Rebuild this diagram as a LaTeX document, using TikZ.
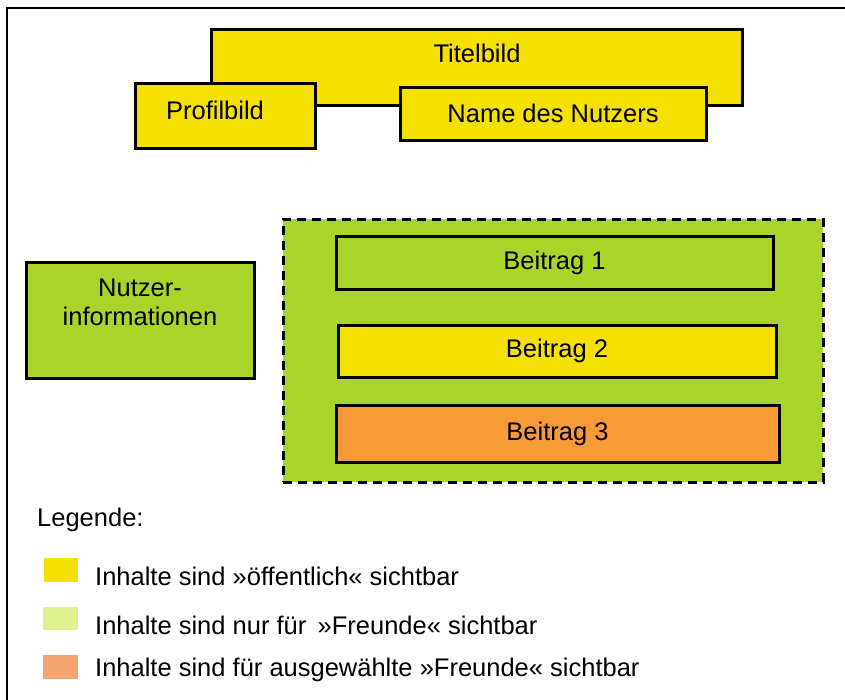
\documentclass[tikz,border=0pt]{standalone}
\usepackage{fontspec}
\setmainfont{Liberation Sans}
\definecolor{pubyellow}{HTML}{F5E100}
\definecolor{friendgreen}{HTML}{A9D42A}
\definecolor{selorange}{HTML}{F99A38}
\definecolor{lightgreen}{HTML}{DFF08F}
\definecolor{salmon}{HTML}{F4A46F}
\begin{document}
\begin{tikzpicture}[x=1pt,y=-1pt,
  box/.style={draw=black,line width=3pt,anchor=north west,inner sep=0pt,outer sep=0pt},
  lbl/.style={font=\fontsize{25.5}{28.5}\selectfont,inner sep=0pt},
  swatch/.style={anchor=north west,inner sep=0pt,outer sep=0pt,draw=none}]
\useasboundingbox (0,0) rectangle (845,699);
% outer frame
\coordinate (fbl) at (7,705);
\coordinate (ftl) at (7,8);
\coordinate (ftr) at (850,8);
\draw[line width=2.5pt] (fbl) -- (ftl) -- (ftr);
% header
\node[box,fill=pubyellow,minimum width=531pt,minimum height=76pt] (titel) at (211,29) {};
\node[lbl] (titeltxt) at (477,53) {Titelbild};
\node[box,fill=pubyellow,minimum width=180pt,minimum height=65pt] (profil) at (135,83) {};
\node[lbl] (profiltxt) at (215,110) {Profilbild};
\node[box,fill=pubyellow,minimum width=306pt,minimum height=53pt] (name) at (400,87) {};
\node[lbl] at (name.center) {Name des Nutzers};
% user info
\node[box,fill=friendgreen,minimum width=228pt,minimum height=116pt] (info) at (26,262) {};
\node[lbl,align=center,anchor=north] (infotxt) at (140,279) {Nutzer-\\informationen};
% posts container
\node[box,fill=friendgreen,dash pattern=on 9pt off 6pt,minimum width=540pt,minimum height=263pt] (posts) at (283,219) {};
\node[box,fill=friendgreen,minimum width=437pt,minimum height=53pt] (b1) at (336,236) {};
\node[lbl] at (b1.center) {Beitrag 1};
\node[box,fill=pubyellow,minimum width=438pt,minimum height=52pt] (b2) at (338,325) {};
\node[lbl] at (b2.center) {Beitrag 2};
\node[box,fill=selorange,minimum width=443pt,minimum height=57pt] (b3) at (336,405) {};
\node[lbl] at (b3.center) {Beitrag 3};
% legend
\node[lbl,anchor=west] (leg) at (37,520) {Legende:};
\node[swatch,fill=pubyellow,minimum width=34pt,minimum height=24pt] (s1) at (44,558) {};
\node[lbl,anchor=west] (l1) at (95,576) {Inhalte sind »öffentlich« sichtbar};
\node[swatch,fill=lightgreen,minimum width=35pt,minimum height=23pt] (s2) at (43,607) {};
\node[lbl,anchor=west] (l2) at (95,625) {Inhalte sind nur für \,»Freunde« sichtbar};
\node[swatch,fill=salmon,minimum width=35pt,minimum height=24pt] (s3) at (43,655) {};
\node[lbl,anchor=west] (l3) at (95,670) {Inhalte sind für ausgewählte »Freunde« sichtbar};
\end{tikzpicture}
\end{document}
